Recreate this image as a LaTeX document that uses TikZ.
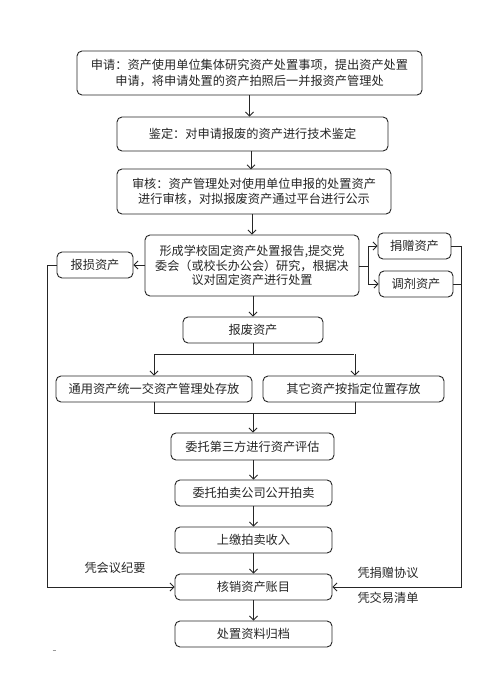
\documentclass[tikz,border=0pt]{standalone}
\usepackage{fontspec}
\setmainfont{Noto Sans CJK SC}
\usetikzlibrary{arrows.meta}
\tikzset{
  box/.style={draw=black!85, line width=0.9pt, rounded corners=5pt, align=center, inner sep=0pt,
    font=\fontsize{12.2}{15.2}\selectfont, text=black!85},
  arr/.style={draw=black!85, line width=0.9pt, -{Straight Barb[length=4pt,width=8pt,line width=0.9pt]}},
  ln/.style={draw=black!85, line width=0.9pt},
  lbl/.style={font=\fontsize{12.2}{15}\selectfont, text=black!85, inner sep=0pt}
}
\begin{document}
\begin{tikzpicture}[x=1pt,y=-1pt]
\useasboundingbox[fill=white] (0,0) rectangle (499,692);
% main chain
\node[box, minimum width=345pt, minimum height=44pt] (b1) at (249.5,73) {申请：资产使用单位集体研究资产处置事项，提出资产处置\\申请，将申请处置的资产拍照后一并报资产管理处};
\node[box, minimum width=271pt, minimum height=34pt] (b2) at (252.5,134) {鉴定：对申请报废的资产进行技术鉴定};
\node[box, minimum width=274pt, minimum height=45pt] (b3) at (254,191.5) {审核：资产管理处对使用单位申报的处置资产\\进行审核，对拟报废资产通过平台进行公示};
\node[box, minimum width=214pt, minimum height=61pt, font=\fontsize{12.1}{14.5}\selectfont] (b4) at (252,265.5) {形成学校固定资产处置报告,提交党\\委会（或校长办公会）研究，根据决\\议对固定资产进行处置};
\node[box, minimum width=76pt, minimum height=26pt] (bs) at (95,265) {报损资产};
\node[box, minimum width=73pt, minimum height=26pt] (bj) at (414.5,246) {捐赠资产};
\node[box, minimum width=74pt, minimum height=26pt] (bt) at (416,284) {调剂资产};
\node[box, minimum width=140pt, minimum height=26pt] (bf) at (253,330) {报废资产};
\node[box, minimum width=196pt, minimum height=26pt] (bg) at (154,389) {通用资产统一交资产管理处存放};
\node[box, minimum width=181pt, minimum height=26pt] (bq) at (353.5,389) {其它资产按指定位置存放};
\node[box, minimum width=163pt, minimum height=27pt] (bw) at (252.5,446.5) {委托第三方进行资产评估};
\node[box, minimum width=157pt, minimum height=26pt] (bp) at (253.5,493) {委托拍卖公司公开拍卖};
\node[box, minimum width=157pt, minimum height=26pt] (bsj) at (253.5,540) {上缴拍卖收入};
\node[box, minimum width=157pt, minimum height=26pt] (bh) at (253.5,587) {核销资产账目};
\node[box, minimum width=157pt, minimum height=26pt] (bd) at (253.5,634) {处置资料归档};
% labels
\node[lbl] (l1) at (115,568) {凭会议纪要};
\node[lbl] (l2) at (388,573) {凭捐赠协议};
\node[lbl] (l3) at (388,598) {凭交易清单};
% coordinates
\coordinate (fk) at (368,266);
\coordinate (ll) at (47,265);
\coordinate (rr) at (461,246);
\coordinate (sp) at (253,354);
\coordinate (mg) at (253,413);
% arrows main
\draw[arr] (b1.south) -- (b1.south |- b2.north);
\draw[arr] (b2.south -| b1.south) ++(1.5,0) -- ++(0,18);
\draw[arr] (b3.south -| bf.north) ++(-1,0) coordinate (t3) -- (t3 |- b4.north);
\draw[arr] (b4.west |- bs.east) -- (bs.east);
\draw[ln] (b4.east |- fk) -- (fk);
\draw[arr] (fk) |- (bj.west);
\draw[arr] (fk) |- (bt.west);
\draw[arr] (b4.south -| bf.north) -- (bf.north);
\draw[ln] (bf.south) -- (sp);
\draw[ln] (sp -| bg.north) -- (sp -| bq.north);
\draw[arr] (sp -| bg.north) -- (bg.north);
\draw[arr] (sp -| 355,0) -- (bq.north -| 355,0);
\draw[ln] (bg.south) |- (mg);
\draw[ln] (bq.south -| 355,0) |- (mg);
\draw[arr] (mg) -- (mg |- bw.north);
\draw[arr] (bw.south -| bp.north) -- (bp.north);
\draw[arr] (bp.south) -- (bsj.north);
\draw[arr] (bsj.south) -- (bh.north);
\draw[arr] (bh.south) -- (bd.north);
% side loops
\draw[ln] (bs.west) -- (ll);
\draw[arr] (ll) |- (bh.west);
\draw[ln] (bj.east) -- (rr);
\draw[ln] (bt.east) -- (bt.east -| rr);
\draw[arr] (rr) |- (bh.east);
% small mark
\draw[line width=0.8pt, black!40] (52.5,650) -- (55.5,650);
\end{tikzpicture}
\end{document}
